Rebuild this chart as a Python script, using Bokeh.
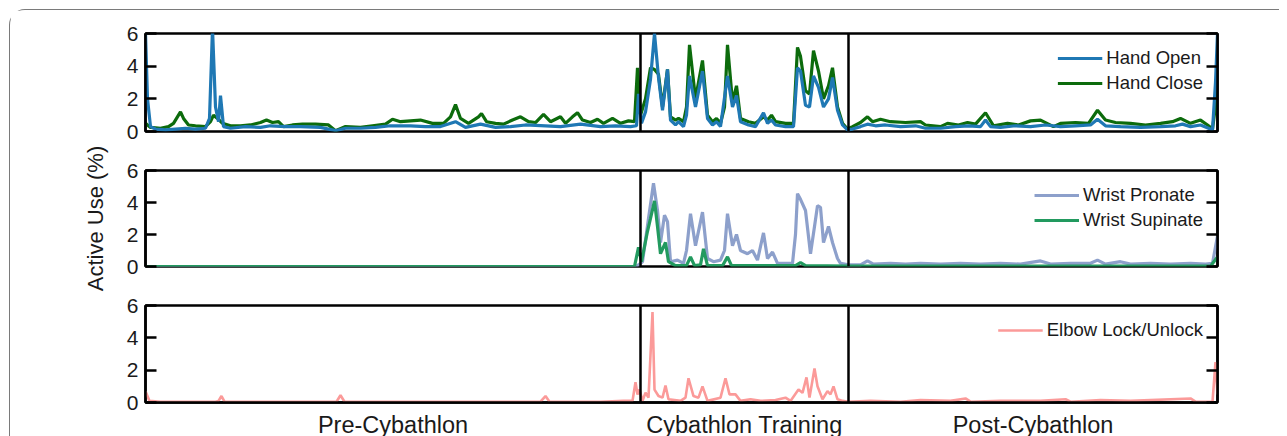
from bokeh.plotting import figure
from bokeh.layouts import column
from bokeh.models import (Range1d, LinearAxis, FixedTicker, Span, Legend, LegendItem)
from bokeh.embed import file_html
from bokeh.resources import INLINE

# ---------------- data (time index, active use %) ----------------
period_names = ["Pre-Cybathlon", "Cybathlon Training", "Post-Cybathlon"]
period_edges = [145, 640, 848, 1217]

hand_open_x = [145, 147, 150, 155, 165, 175, 185, 195, 205, 209, 212, 215, 218, 220, 223, 230, 245, 260, 270, 285,
               300, 320, 335, 345, 360, 375, 390, 410, 425, 440, 455, 465, 480, 495, 510, 525, 545, 560, 580, 600,
               615, 630, 636, 638, 641, 645, 650, 654, 658, 662, 667, 670, 675, 678, 683, 686, 689, 695, 702, 707,
               712, 716, 720, 727, 732, 736, 740, 748, 755, 763, 767, 771, 775, 785, 793, 797, 800, 805, 809, 813,
               818, 823, 828, 832, 837, 842, 847, 852, 860, 867, 875, 885, 900, 915, 925, 940, 955, 968, 980, 985,
               990, 1000, 1015, 1030, 1045, 1060, 1075, 1090, 1097, 1105, 1120, 1140, 1160, 1175, 1182, 1190, 1200,
               1208, 1212, 1215, 1217]
hand_open_y = [6.0, 2.0, 0.3, 0.15, 0.1, 0.15, 0.2, 0.15, 0.2, 0.8, 6.3, 1.5, 0.6, 2.2, 0.3, 0.2, 0.3, 0.25, 0.35, 0.3,
               0.3, 0.25, 0.05, 0.2, 0.2, 0.25, 0.35, 0.35, 0.3, 0.3, 0.6, 0.25, 0.45, 0.25, 0.3, 0.4, 0.35, 0.3, 0.45, 0.3,
               0.35, 0.3, 0.35, 2.3, 0.5, 1.2, 3.2, 6.0, 3.3, 1.3, 3.8, 0.7, 0.4, 0.6, 0.3, 1.0, 3.4, 1.5, 3.7, 0.8,
               0.4, 0.6, 0.3, 3.4, 1.5, 2.2, 0.6, 0.4, 0.3, 1.15, 0.5, 0.7, 0.4, 0.3, 0.3, 3.9, 3.7, 1.6, 1.5, 3.4,
               2.7, 1.5, 2.0, 3.3, 1.3, 0.4, 0.1, 0.15, 0.3, 0.45, 0.35, 0.4, 0.3, 0.35, 0.2, 0.2, 0.3, 0.35, 0.3, 0.7,
               0.3, 0.25, 0.35, 0.3, 0.4, 0.3, 0.35, 0.4, 0.75, 0.35, 0.3, 0.25, 0.3, 0.35, 0.45, 0.3, 0.4,
               0.2, 0.1, 3.0, 6.0]

hand_close_x = [145, 150, 160, 168, 173, 178, 180, 183, 188, 195, 205, 210, 213, 217, 222, 230, 240, 250, 260, 266,
                272, 278, 283, 292, 302, 315, 328, 335, 345, 360, 372, 385, 392, 400, 410, 420, 432, 443, 450, 455,
                460, 468, 478, 481, 486, 495, 503, 512, 520, 528, 535, 543, 550, 560, 565, 572, 577, 582, 590, 597,
                603, 612, 620, 628, 634, 637, 640, 645, 650, 654, 658, 662, 667, 670, 675, 678, 683, 686, 689, 695,
                702, 707, 712, 716, 720, 724, 727, 732, 736, 740, 748, 755, 763, 767, 771, 775, 785, 793, 797, 800,
                805, 809, 813, 818, 823, 828, 832, 837, 842, 847, 852, 860, 867, 872, 880, 890, 905, 920, 925, 940,
                947, 958, 967, 975, 985, 993, 1007, 1018, 1030, 1040, 1053, 1060, 1075, 1088, 1097, 1105, 1115, 1130,
                1145, 1160, 1172, 1180, 1190, 1200, 1207, 1212, 1217]
hand_close_y = [0.5, 0.25, 0.2, 0.3, 0.5, 1.0, 1.2, 0.8, 0.4, 0.35, 0.3, 0.6, 1.0, 0.8, 0.5, 0.35, 0.35, 0.4, 0.55, 0.7,
                0.55, 0.6, 0.3, 0.4, 0.45, 0.45, 0.4, 0.05, 0.3, 0.25, 0.35, 0.45, 0.75, 0.6, 0.65, 0.7, 0.5, 0.5, 0.9, 1.65,
                0.8, 0.5, 0.9, 1.1, 0.6, 0.5, 0.45, 0.7, 0.9, 0.6, 0.55, 1.05, 0.6, 0.9, 0.5, 0.9, 1.15, 0.7, 0.55, 0.75,
                0.5, 0.8, 0.5, 0.65, 0.6, 3.9, 1.0, 2.0, 3.9, 3.8, 3.5, 1.5, 3.8, 0.9, 0.7, 0.8, 0.6, 1.5, 5.3, 2.0,
                4.35, 1.0, 0.6, 0.8, 0.5, 1.5, 5.3, 1.8, 2.8, 0.8, 0.6, 0.5, 0.9, 0.7, 1.0, 0.6, 0.5, 0.5, 5.15, 4.6,
                2.5, 2.3, 4.95, 3.7, 2.0, 2.8, 3.9, 1.5, 0.5, 0.15, 0.3, 0.55, 0.9, 0.6, 0.75, 0.6, 0.55, 0.6, 0.4, 0.3,
                0.5, 0.4, 0.55, 0.45, 1.15, 0.35, 0.5, 0.4, 0.65, 0.7, 0.3, 0.5, 0.55, 0.5, 1.3, 0.7, 0.55, 0.5,
                0.4, 0.5, 0.6, 0.8, 0.5, 0.7, 0.4, 0.15, 2.5]

pronate_x = [145, 635, 638, 642, 648, 653, 657, 660, 664, 667, 670, 677, 683, 686, 690, 695, 702, 707, 713, 720,
             724, 727, 732, 736, 740, 747, 752, 757, 763, 767, 772, 777, 792, 795, 797, 800, 805, 810, 814, 817,
             820, 823, 828, 832, 837, 840, 848, 860, 867, 873, 890, 905, 920, 940, 960, 980, 1000, 1020, 1040, 1050,
             1070, 1090, 1097, 1105, 1120, 1130, 1150, 1170, 1190, 1205, 1212, 1217]
pronate_y = [0, 0, 0.1, 0.3, 3.0, 5.2, 3.5, 1.5, 3.2, 2.8, 0.3, 0.4, 0.2, 1.0, 3.3, 1.3, 3.4, 0.5, 0.3, 0.4,
             1.0, 3.3, 1.3, 2.0, 1.0, 0.8, 1.0, 0.4, 2.1, 0.5, 0.9, 0.2, 0.2, 2.0, 4.55, 4.2, 3.5, 0.8, 2.5, 3.8,
             3.7, 1.5, 2.5, 1.5, 0.5, 0.2, 0.1, 0.1, 0.35, 0.15, 0.2, 0.15, 0.2, 0.15, 0.2, 0.15, 0.2, 0.15, 0.35, 0.15,
             0.2, 0.2, 0.4, 0.15, 0.3, 0.15, 0.2, 0.15, 0.2, 0.15, 0.2, 1.9]

supinate_x = [145, 634, 638, 641, 647, 650, 654, 657, 660, 665, 668, 675, 686, 690, 694, 700, 703, 707, 722, 727,
              731, 795, 800, 805, 848, 1210, 1217]
supinate_y = [0, 0, 1.2, 0.3, 2.2, 3.0, 4.1, 2.5, 0.8, 1.5, 0.3, 0.05, 0.05, 0.6, 0.05, 0.1, 1.1, 0.05, 0.05, 0.6,
              0.05, 0.05, 0.25, 0.05, 0.02, 0.02, 0.6]

elbow_x = [145, 149, 160, 215, 218, 221, 224, 336, 340, 344, 540, 545, 549, 600, 623, 632, 635, 637, 639, 642,
           645, 648, 652, 654, 658, 662, 665, 668, 680, 685, 688, 693, 698, 702, 707, 720, 725, 729, 735, 740,
           750, 760, 775, 785, 790, 798, 802, 806, 809, 814, 817, 822, 827, 830, 833, 837, 842, 848, 870, 900,
           920, 950, 965, 970, 1000, 1040, 1065, 1070, 1100, 1130, 1190, 1195, 1212, 1215, 1217]
elbow_y = [0.7, 0.1, 0.05, 0.05, 0.1, 0.4, 0.05, 0.05, 0.45, 0.05, 0.05, 0.4, 0.05, 0.05, 0.1, 0.1, 1.25, 0.5, 0.8, 0.1,
           0.6, 0.3, 5.6, 0.8, 0.4, 0.3, 1.05, 0.2, 0.1, 0.3, 1.5, 0.4, 0.3, 1.0, 0.1, 0.3, 1.5, 0.5, 0.5, 0.1,
           0.2, 0.1, 0.15, 0.3, 0.1, 0.8, 0.6, 1.55, 0.3, 2.1, 1.0, 0.2, 0.7, 0.5, 1.0, 0.2, 0.1, 0.05, 0.1, 0.05,
           0.15, 0.1, 0.25, 0.05, 0.1, 0.1, 0.2, 0.05, 0.15, 0.1, 0.25, 0.05, 0.05, 2.5, 0.5]

y_ticks = [0, 2, 4, 6]

FONT = "Liberation Sans"
TXT = "#1a1a1a"


def panel(top, fh, bottom, show_x=False, ylabel=None):
    p = figure(frame_width=1072, frame_height=fh, min_border_left=135, min_border_right=62,
               min_border_top=top, min_border_bottom=bottom,
               x_range=Range1d(period_edges[0], period_edges[-1]), y_range=Range1d(0, 6),
               output_backend="svg", toolbar_location=None)
    p.xgrid.visible = False
    p.ygrid.visible = False
    p.outline_line_color = "black"
    p.outline_line_width = 2.5
    p.background_fill_color = "white"
    p.border_fill_color = "white"

    ya = p.yaxis[0]
    ya.ticker = FixedTicker(ticks=y_ticks)
    ya.major_tick_in = 11
    ya.major_tick_out = 0
    ya.minor_tick_line_color = None
    ya.major_tick_line_width = 2.5
    ya.axis_line_width = 2.5
    ya.axis_line_color = "black"
    ya.major_label_text_font = FONT
    ya.major_label_text_font_size = "21px"
    ya.major_label_text_color = TXT
    ya.major_label_standoff = 7
    if ylabel:
        ya.axis_label = ylabel
        ya.axis_label_text_font = FONT
        ya.axis_label_text_font_size = "22px"
        ya.axis_label_text_font_style = "normal"
        ya.axis_label_text_color = TXT
        ya.axis_label_standoff = 16

    ra = LinearAxis(ticker=FixedTicker(ticks=y_ticks))
    ra.major_tick_in = 11
    ra.major_tick_out = 0
    ra.minor_tick_line_color = None
    ra.major_tick_line_width = 2.5
    ra.axis_line_width = 2.5
    ra.major_label_text_font_size = "0px"
    ra.major_label_text_alpha = 0
    p.add_layout(ra, "right")

    xa = p.xaxis[0]
    if show_x:
        centers = [(period_edges[i] + period_edges[i + 1]) / 2 for i in range(3)]
        xa.ticker = FixedTicker(ticks=centers)
        xa.major_label_overrides = {c: n for c, n in zip(centers, period_names)}
        xa.major_tick_in = 0
        xa.major_tick_out = 0
        xa.minor_tick_line_color = None
        xa.axis_line_width = 2.5
        xa.major_label_text_font = FONT
        xa.major_label_text_font_size = "23.5px"
        xa.major_label_text_color = TXT
        xa.major_label_standoff = 9
    else:
        xa.visible = False

    for e in period_edges[1:-1]:
        p.add_layout(Span(location=e, dimension="height", line_color="black", line_width=2.5))
    return p


def add_legend(p, items, glyph_w):
    lg = Legend(items=items, location="top_right")
    lg.border_line_color = None
    lg.background_fill_alpha = 0
    lg.margin = 14
    lg.padding = 2
    lg.spacing = 3
    lg.glyph_width = glyph_w
    lg.glyph_height = 20
    lg.label_height = 20
    lg.label_standoff = 4
    lg.label_text_font = FONT
    lg.label_text_font_size = "18.5px"
    lg.label_text_color = TXT
    p.add_layout(lg)


# top panel
p1 = panel(23, 98, 12)
r_hc = p1.line(hand_close_x, hand_close_y, line_color="#0c6b0c", line_width=3.2)
r_ho = p1.line(hand_open_x, hand_open_y, line_color="#1f78b4", line_width=3.2)
add_legend(p1, [LegendItem(label="Hand Open", renderers=[r_ho]),
                LegendItem(label="Hand Close", renderers=[r_hc])], 45)

# middle panel
p2 = panel(27, 96, 27, ylabel="Active Use (%)")
r_wp = p2.line(pronate_x, pronate_y, line_color="#8da0cb", line_width=3.2)
r_ws = p2.line(supinate_x, supinate_y, line_color="#229a5f", line_width=3.2)
add_legend(p2, [LegendItem(label="Wrist Pronate", renderers=[r_wp]),
                LegendItem(label="Wrist Supinate", renderers=[r_ws])], 45)

# bottom panel
p3 = panel(12, 97, 32, show_x=True)
r_el = p3.line(elbow_x, elbow_y, line_color="#fb9a99", line_width=2.6)
add_legend(p3, [LegendItem(label="Elbow Lock/Unlock", renderers=[r_el])], 45)

layout = column(p1, p2, p3, spacing=0, margin=(9, 0, 0, 9),
                styles={"border-top": "1.5px solid #7a7a7a", "border-left": "1.5px solid #7a7a7a",
                        "border-top-left-radius": "16px"})

open("out.html", "w").write(file_html(layout, INLINE))
